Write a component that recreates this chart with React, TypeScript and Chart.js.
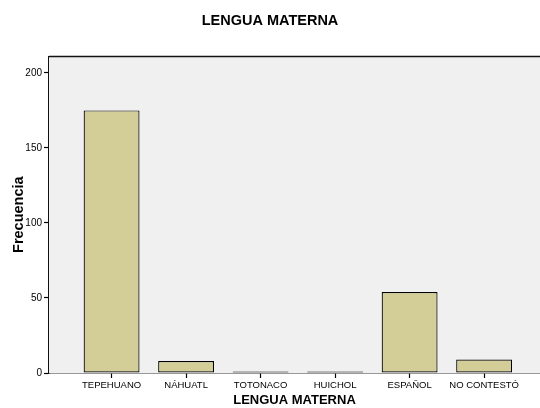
import React, { useEffect, useRef } from "react";
import { Chart, registerables } from "chart.js";

Chart.register(...registerables);

const categories = ["TEPEHUANO", "NÁHUATL", "TOTONACO", "HUICHOL", "ESPAÑOL", "NO CONTESTÓ"];
const frecuencias = [175, 8, 1, 1, 54, 9];
const yTickValues = [0, 50, 100, 150, 200];
const chartTitle = "LENGUA MATERNA";
const xTitle = "LENGUA MATERNA";
const yTitle = "Frecuencia";

const FONT = "Arial, 'Liberation Sans', sans-serif";

const framePlugin = {
  id: "frame",
  beforeDatasetsDraw(chart: any) {
    const { ctx, chartArea } = chart;
    ctx.save();
    ctx.fillStyle = "#f0f0f0";
    ctx.fillRect(chartArea.left, chartArea.top, chartArea.right - chartArea.left, chartArea.bottom - chartArea.top);
    ctx.strokeStyle = "#111111";
    ctx.lineWidth = 1.5;
    ctx.beginPath();
    ctx.moveTo(chartArea.left, chartArea.top);
    ctx.lineTo(chartArea.right, chartArea.top);
    ctx.stroke();
    ctx.restore();
  },
};

export default function App() {
  const ref = useRef<HTMLCanvasElement>(null);
  useEffect(() => {
    document.body.style.margin = "0";
    const canvas = ref.current!;
    const chart = new Chart(canvas, {
      type: "bar",
      data: {
        datasets: [
          {
            data: frecuencias.map((v, i) => ({ x: i, y: v })),
            backgroundColor: "#d3ce98",
            borderColor: "#000000",
            borderWidth: 1.2,
            borderSkipped: false,
            barPercentage: 1,
            categoryPercentage: 0.75,
          },
        ],
      },
      options: {
        animation: false,
        responsive: false,
        maintainAspectRatio: false,
        layout: { padding: 0 },
        plugins: {
          legend: { display: false },
          tooltip: { enabled: false },
          title: {
            display: true,
            text: chartTitle,
            color: "#000",
            font: { family: FONT, size: 14.5, weight: "bold" },
            padding: { top: 12, bottom: 27 },
          },
        },
        scales: {
          x: {
            type: "linear",
            min: -0.84,
            max: 5.75,
            offset: false,
            afterFit: (axis: any) => {
              axis.height = 35;
            },
            afterBuildTicks: (axis: any) => {
              axis.ticks = categories.map((_, i) => ({ value: i }));
            },
            ticks: {
              autoSkip: false,
              maxRotation: 0,
              minRotation: 0,
              padding: 2,
              color: "#000",
              font: { family: FONT, size: 9.5 },
              callback: (v: any) => categories[v as number] ?? "",
            },
            grid: {
              display: true,
              offset: false,
              drawOnChartArea: false,
              drawTicks: true,
              tickLength: 5,
              tickWidth: 1.2,
              color: "#000",
              tickColor: "#000",
            },
            border: { display: true, color: "#333", width: 1.5 },
            title: {
              display: true,
              text: xTitle,
              color: "#000",
              font: { family: FONT, size: 13, weight: "bold" },
              padding: { top: 0, bottom: 0 },
            },
          },
          y: {
            type: "linear",
            min: 0,
            max: 211,
            afterFit: (axis: any) => {
              axis.width = 49;
            },
            afterBuildTicks: (axis: any) => {
              axis.ticks = yTickValues.map((v) => ({ value: v }));
            },
            ticks: {
              padding: 2,
              color: "#000",
              font: { family: FONT, size: 10 },
            },
            grid: {
              offset: false,
              drawOnChartArea: false,
              drawTicks: true,
              tickLength: 5,
              tickWidth: 1.2,
              color: "#000",
              tickColor: "#000",
            },
            border: { display: true, color: "#111", width: 1.5 },
            title: {
              display: true,
              text: yTitle,
              color: "#000",
              font: { family: FONT, size: 14.5, weight: "bold" },
              padding: { top: 10, bottom: 0 },
            },
          },
        },
      },
      plugins: [framePlugin],
    } as any);
    return () => chart.destroy();
  }, []);
  return (
    <div style={{ width: 540, height: 408 }}>
      <canvas ref={ref} width={540} height={408} style={{ display: "block" }} />
    </div>
  );
}
